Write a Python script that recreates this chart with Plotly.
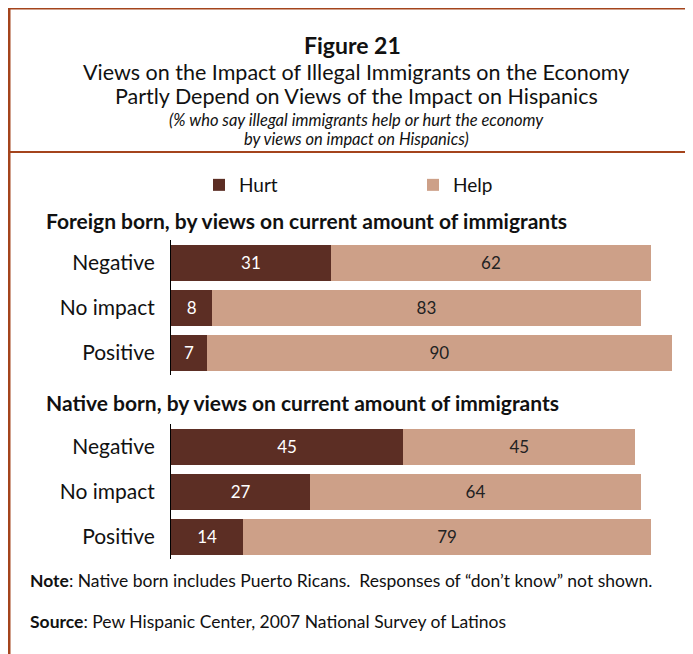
import plotly.graph_objects as go

# Data
categories = ["Negative", "No impact", "Positive"]
foreign_hurt = [31, 8, 7]
foreign_help = [62, 83, 90]
native_hurt = [45, 27, 14]
native_help = [45, 64, 79]

HURT = "#5C2E24"
HELP = "#CDA088"
FRAME = "#A4441C"
FONT = "Lato, 'Open Sans', sans-serif"

W, H = 693, 654
OFF = 8  # page body margin


def py(y):
    # pixel from top of window -> paper coordinate
    return 1 - (y - OFF) / H


def px(x):
    return (x - OFF) / W


fig = go.Figure()

for hurt, help_, xa, ya, show in [
    (foreign_hurt, foreign_help, "x", "y", True),
    (native_hurt, native_help, "x2", "y2", False),
]:
    fig.add_trace(go.Bar(
        y=categories, x=hurt, orientation="h", name="Hurt",
        marker=dict(color=HURT, line=dict(width=0)),
        text=hurt, textposition="inside", insidetextanchor="middle",
        textfont=dict(color="white", size=17, family=FONT),
        xaxis=xa, yaxis=ya, showlegend=show, legendgroup="hurt",
        width=0.8,
    ))
    fig.add_trace(go.Bar(
        y=categories, x=help_, orientation="h", name="Help",
        marker=dict(color=HELP, line=dict(width=0)),
        text=help_, textposition="inside", insidetextanchor="middle",
        textfont=dict(color="#222222", size=17, family=FONT),
        xaxis=xa, yaxis=ya, showlegend=show, legendgroup="help",
        width=0.8,
    ))

xcommon = dict(range=[0, 100], domain=[px(171), px(171 + 516)], showgrid=False,
               showticklabels=False, zeroline=False, showline=False)
ycommon = dict(range=[2.5, -0.5], showgrid=False, showline=True,
               linecolor="black", linewidth=1, ticks="outside",
               ticklen=11, tickcolor="rgba(0,0,0,0)",
               tickfont=dict(size=21, color="#111111", family=FONT))

fig.update_layout(
    width=W, height=H,
    margin=dict(l=0, r=0, t=0, b=0),
    paper_bgcolor="white", plot_bgcolor="white",
    barmode="stack", bargap=0.2,
    font=dict(family=FONT, color="#111111"),
    xaxis=dict(anchor="y", **xcommon),
    xaxis2=dict(anchor="y2", **xcommon),
    yaxis=dict(anchor="x", domain=[py(375), py(240)], **ycommon),
    yaxis2=dict(anchor="x2", domain=[py(559), py(424)], **ycommon),
    legend=dict(orientation="h", x=px(199), y=py(166), xanchor="left",
                yanchor="top", font=dict(size=19, family=FONT),
                entrywidth=169, entrywidthmode="pixels",
                bgcolor="rgba(0,0,0,0)", traceorder="normal"),
)

# Frame lines
fig.add_shape(type="line", xref="paper", yref="paper", x0=0, x1=1,
              y0=py(8), y1=py(8), line=dict(color=FRAME, width=3))
fig.add_shape(type="line", xref="paper", yref="paper", x0=px(9), x1=px(9),
              y0=py(7), y1=0, line=dict(color=FRAME, width=3))
fig.add_shape(type="line", xref="paper", yref="paper", x0=0, x1=1,
              y0=py(152), y1=py(152), line=dict(color=FRAME, width=2))

texts = [
    ("<b>Figure 21</b>", 352, 45, 23, "center"),
    ("Views on the Impact of Illegal Immigrants on the Economy", 356, 72, 21.5, "center"),
    ("Partly Depend on Views of the Impact on Hispanics", 356, 96, 21.5, "center"),
    ("<i>(% who say illegal immigrants help or hurt the economy</i>", 356, 120, 16.5, "center"),
    ("<i>by views on impact on Hispanics)</i>", 356, 139, 16.5, "center"),
    ("<b>Foreign born, by views on current amount of immigrants</b>", 44, 221, 21, "left"),
    ("<b>Native born, by views on current amount of immigrants</b>", 44, 402, 21, "left"),
    ("<b>Note</b>: Native born includes Puerto Ricans.  Responses of \u201cdon\u2019t know\u201d not shown.", 28, 580, 17.5, "left"),
    ("<b>Source</b>: Pew Hispanic Center, 2007 National Survey of Latinos", 28, 621, 17.5, "left"),
]
for t, x, y, s, anchor in texts:
    fig.add_annotation(text=t, x=px(x), y=py(y), xref="paper", yref="paper",
                       xanchor=anchor, yanchor="middle", showarrow=False,
                       font=dict(size=s, family=FONT, color="#111111"))

fig.write_html("out.html")
